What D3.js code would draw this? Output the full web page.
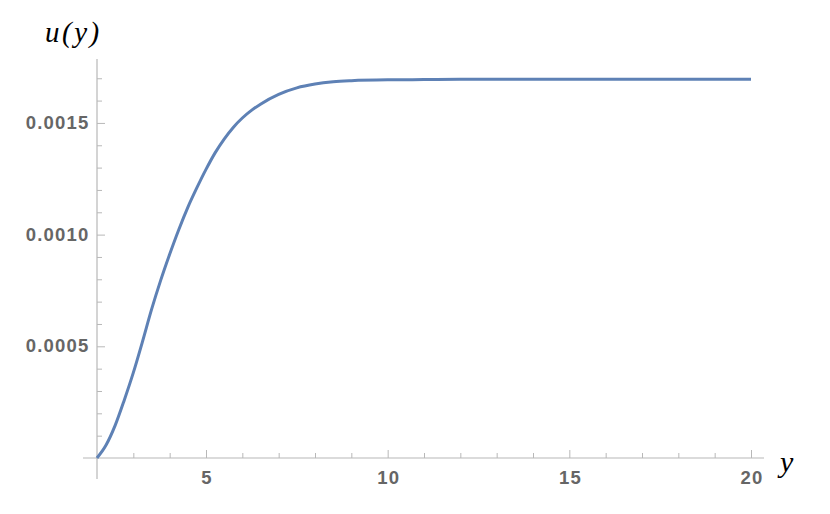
<!DOCTYPE html>
<html>
<head>
<meta charset="utf-8">
<script src="https://cdn.jsdelivr.net/npm/d3@7"></script>
<style>
    body { margin: 0; background: #fff; }
</style>
</head>
<body>
<script>
// curve u(y)
var yValues = [2, 2.25, 2.5, 2.75, 3, 3.25, 3.5, 3.75, 4, 4.25, 4.5, 4.75, 5, 5.25, 5.5, 5.75,
    6, 6.25, 6.5, 7, 7.5, 8, 8.5, 9, 10, 11, 12, 14, 16, 18, 20];
var uValues = [0, 0.000058, 0.000146, 0.000259, 0.000382, 0.000520, 0.000664, 0.000794, 0.000912,
    0.001022, 0.001122, 0.001210, 0.001292, 0.001366, 0.001428, 0.001480,
    0.001522, 0.001556, 0.001584, 0.001628, 0.001657, 0.001674, 0.001684, 0.001689, 0.001693,
    0.001694, 0.001695, 0.001695, 0.001695, 0.001695, 0.001695];

// ticks
var xMajor = [5, 10, 15, 20];
var xMinor = [3, 4, 6, 7, 8, 9, 11, 12, 13, 14, 16, 17, 18, 19];
var uMajor = [0.0005, 0.0010, 0.0015];
var uMajorLabels = ["0.0005", "0.0010", "0.0015"];
var uMinor = [0.0001, 0.0002, 0.0003, 0.0004, 0.0006, 0.0007, 0.0008, 0.0009, 0.0011, 0.0012, 0.0013, 0.0014, 0.0016, 0.0017];

setChart();

function setChart() {
    var width = 830,
        height = 514;

    var svg = d3.select("body")
        .append("svg")
        .attr("width", width)
        .attr("height", height);

    var x = d3.scaleLinear()
        .domain([2, 20])
        .range([97, 751]);

    var y = d3.scaleLinear()
        .domain([0, 0.0017862])
        .range([458, 59]);

    var axisColor = "#b8b8b8";

    // style tick labels like Mathematica's bold gray
    function labelStyle(sel) {
        sel.attr("fill", "#666")
            .style("font-family", "'Liberation Sans', Arial, sans-serif")
            .style("font-weight", "bold")
            .style("font-size", "18.5px")
            .style("letter-spacing", "1.2px");
    }

    // axis lines, extended past the origin
    svg.append("line")
        .attr("x1", 83).attr("x2", 764)
        .attr("y1", y(0)).attr("y2", y(0))
        .attr("stroke", axisColor).attr("stroke-width", 1.2);

    svg.append("line")
        .attr("x1", x(2)).attr("x2", x(2))
        .attr("y1", y.range()[1]).attr("y2", 479)
        .attr("stroke", axisColor).attr("stroke-width", 1.2);

    // x axis ticks
    var xAxis = svg.append("g")
        .attr("transform", "translate(0," + y(0) + ")")
        .call(d3.axisBottom(x).tickValues(xMajor).tickSizeInner(-8).tickSizeOuter(0).tickFormat(d3.format("d")));
    xAxis.select(".domain").remove();
    xAxis.selectAll("line").attr("stroke", axisColor);
    xAxis.selectAll("text")
        .call(labelStyle)
        .attr("y", 25.5)
        .attr("dy", null)
        .attr("dx", "0.6px");

    var xMinorAxis = svg.append("g")
        .attr("transform", "translate(0," + y(0) + ")")
        .call(d3.axisBottom(x).tickValues(xMinor).tickSize(-5).tickFormat(""));
    xMinorAxis.select(".domain").remove();
    xMinorAxis.selectAll("line").attr("stroke", axisColor);

    // u axis ticks
    var yAxis = svg.append("g")
        .attr("transform", "translate(" + x(2) + ",0)")
        .call(d3.axisLeft(y).tickValues(uMajor).tickSizeInner(-8).tickSizeOuter(0)
            .tickFormat(function(d, i) { return uMajorLabels[i]; }));
    yAxis.select(".domain").remove();
    yAxis.selectAll("line").attr("stroke", axisColor);
    yAxis.selectAll("text")
        .call(labelStyle)
        .attr("x", -7.5)
        .attr("dy", "5.5px");

    var yMinorAxis = svg.append("g")
        .attr("transform", "translate(" + x(2) + ",0)")
        .call(d3.axisLeft(y).tickValues(uMinor).tickSize(-5).tickFormat(""));
    yMinorAxis.select(".domain").remove();
    yMinorAxis.selectAll("line").attr("stroke", axisColor);

    // curve
    var line = d3.line()
        .x(function(d, i) { return x(yValues[i]); })
        .y(function(d) { return y(d); })
        .curve(d3.curveMonotoneX);

    svg.append("path")
        .datum(uValues)
        .attr("d", line)
        .attr("fill", "none")
        .attr("stroke", "#5e81b5")
        .attr("stroke-width", 3);

    // axis titles
    svg.append("text")
        .attr("x", 45)
        .attr("y", 42)
        .style("font-family", "'Liberation Serif', 'Times New Roman', serif")
        .style("font-style", "italic")
        .style("font-size", "29px")
        .style("letter-spacing", "2.5px")
        .text("u(y)");

    svg.append("text")
        .attr("x", 780)
        .attr("y", 472)
        .style("font-family", "'Liberation Serif', 'Times New Roman', serif")
        .style("font-style", "italic")
        .style("font-size", "30px")
        .text("y");
}
</script>
</body>
</html>
